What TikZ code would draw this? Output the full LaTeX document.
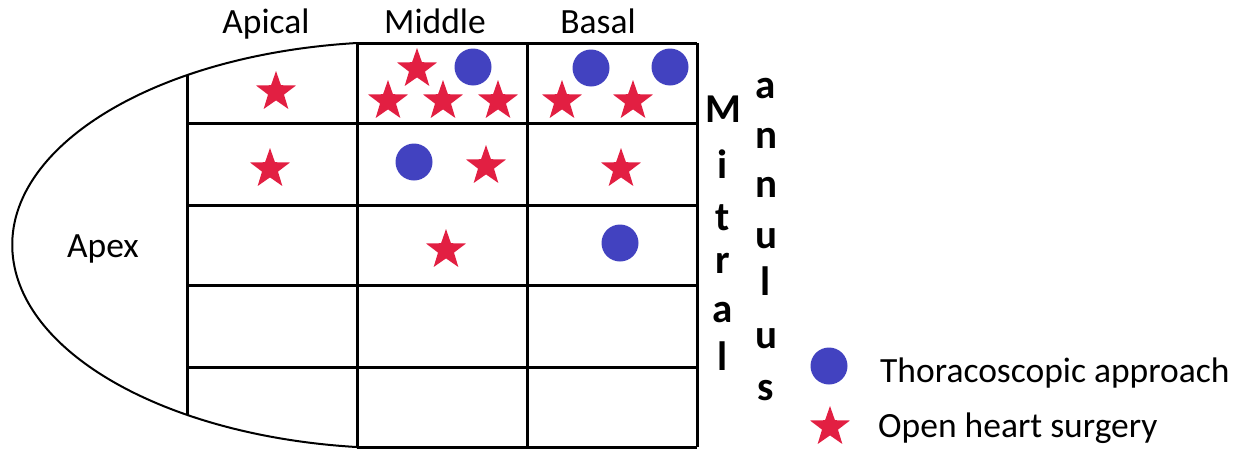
\documentclass[tikz,border=0pt]{standalone}
\usepackage{fontspec}
\setmainfont{Carlito}
\usetikzlibrary{shapes.geometric}
\definecolor{openred}{RGB}{226,31,66}
\definecolor{scopeblue}{RGB}{66,66,192}
\tikzset{
  gridline/.style={line width=3pt, black},
  wallline/.style={line width=2pt, black},
  surgstar/.style={star, star points=5, star point ratio=2.5, fill=openred, draw=none, inner sep=0pt, minimum size=42pt},
  scopedot/.style={circle, fill=scopeblue, draw=none, inner sep=0pt, minimum size=37pt},
  lbl/.style={font=\fontsize{35.5}{40}\selectfont, inner sep=0pt, anchor=base},
  mitral/.style={font=\fontsize{41}{46}\selectfont\bfseries, inner sep=0pt, anchor=base},
  legtext/.style={font=\fontsize{35.5}{40}\selectfont, inner sep=0pt, anchor=base west}
}
\begin{document}
\begin{tikzpicture}[x=1pt,y=-1pt]
\useasboundingbox (0,0) rectangle (1234,450);

% ventricle wall: half ellipse from the top of the middle column round the apex
\draw[wallline] (357,43) arc[start angle=263.6, end angle=96.4, x radius=388, y radius=203.3];

% segment grid
\draw[gridline] (187,75) -- (187,415);
\draw[gridline] (357,43) -- (357,447);
\draw[gridline] (527,43) -- (527,447);
\draw[gridline] (697,43) -- (697,447);
\draw[gridline] (357,43) -- (697,43);
\draw[gridline] (357,447) -- (697,447);
\foreach \yy in {123,205,285,367}
  \draw[gridline] (187,\yy) -- (697,\yy);

% column headings and apex
\node[lbl] (hapical) at (266,33) {Apical};
\node[lbl] (hmiddle) at (435,33) {Middle};
\node[lbl] (hbasal)  at (598,33) {Basal};
\node[lbl] (apex)    at (103,257) {Apex};

% mitral annulus, written letter by letter
\node[mitral] (m1) at (723,122) {M};
\node[mitral] (m2) at (723,178) {i};
\node[mitral] (m3) at (723,230) {t};
\node[mitral] (m4) at (723,273) {r};
\node[mitral] (m5) at (723,322) {a};
\node[mitral] (m6) at (723,370) {l};
\node[mitral] (a1) at (766,98) {a};
\node[mitral] (a2) at (766,148) {n};
\node[mitral] (a3) at (766,197) {n};
\node[mitral] (a4) at (766,248) {u};
\node[mitral] (a5) at (766,295) {l};
\node[mitral] (a6) at (766,348) {u};
\node[mitral] (a7) at (766,400) {s};

% apical column
\node[surgstar] (s1) at (276,92) {};
\node[surgstar] (s2) at (270,169) {};

% middle column
\node[surgstar] (s3) at (417,69) {};
\node[scopedot] (c1) at (473,67) {};
\node[surgstar] (s4) at (388,101) {};
\node[surgstar] (s5) at (443,101) {};
\node[surgstar] (s6) at (498,101) {};
\node[scopedot] (c2) at (414,162) {};
\node[surgstar] (s7) at (486,166) {};
\node[surgstar] (s8) at (446,250) {};

% basal column
\node[scopedot] (c3) at (591,68) {};
\node[scopedot] (c4) at (670,67) {};
\node[surgstar] (s9) at (562,101) {};
\node[surgstar] (s10) at (633,101) {};
\node[surgstar] (s11) at (621,169) {};
\node[scopedot] (c5) at (620,243) {};

% legend
\node[scopedot] (lc) at (829,366) {};
\node[surgstar] (ls) at (830,427) {};
\node[legtext] (lt1) at (880,382) {Thoracoscopic approach};
\node[legtext] (lt2) at (878,437) {Open heart surgery};
\end{tikzpicture}
\end{document}
